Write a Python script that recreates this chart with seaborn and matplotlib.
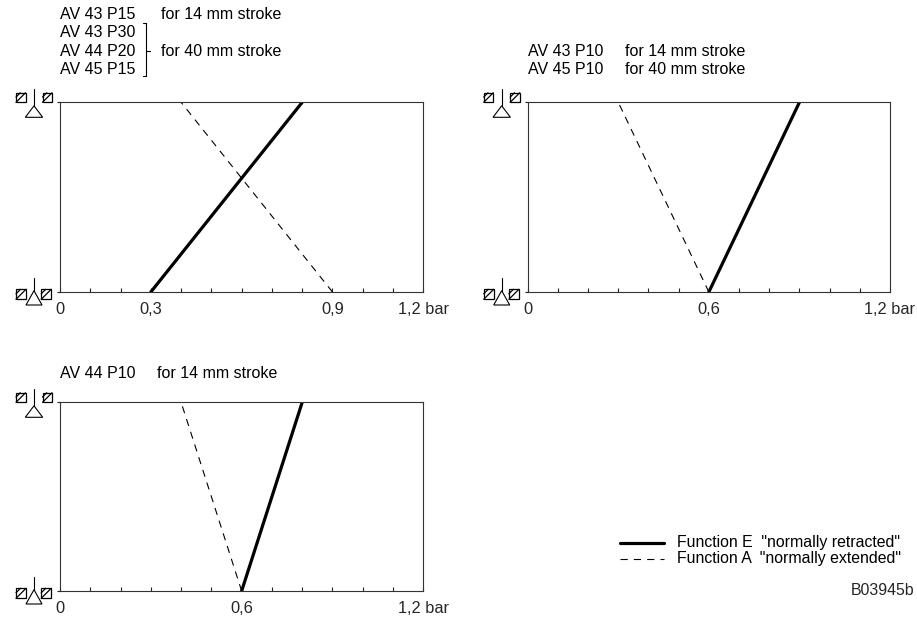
import matplotlib
matplotlib.use("Agg")
import matplotlib.pyplot as plt
import matplotlib.patches as patches
from matplotlib.ticker import MultipleLocator
import seaborn as sns

# Datos: carrera (0 = abajo, 1 = arriba) contra presion de mando en bar
stroke = [0, 1]

# panel 1: AV 43 P15 / AV 43 P30 / AV 44 P20 / AV 45 P15
press_e_1 = [0.3, 0.8]
press_a_1 = [0.9, 0.4]
# panel 2: AV 43 P10 / AV 45 P10
press_e_2 = [0.6, 0.9]
press_a_2 = [0.6, 0.3]
# panel 3: AV 44 P10
press_e_3 = [0.6, 0.8]
press_a_3 = [0.6, 0.4]

ticks_1 = [0, 0.3, 0.9, 1.2]
tick_labels_1 = ["0", "0,3", "0,9", "1,2 bar"]
ticks_2 = [0, 0.6, 1.2]
tick_labels_2 = ["0", "0,6", "1,2 bar"]

sns.set_style("white")
plt.rcParams["font.family"] = ["Liberation Sans", "DejaVu Sans"]
plt.rcParams["font.size"] = 11.5

W, H = 917, 619
fig = plt.figure(figsize=(W / 100, H / 100), dpi=100)


def make_axes(left, right, top, bottom):
    return fig.add_axes([left / W, 1 - bottom / H, (right - left) / W, (bottom - top) / H])


ax1 = make_axes(60, 423.3, 102.3, 292)
ax2 = make_axes(527.7, 890, 102.3, 292)
ax3 = make_axes(60, 423.3, 402.3, 591)

panels = [
    (ax1, press_e_1, press_a_1, ticks_1, tick_labels_1),
    (ax2, press_e_2, press_a_2, ticks_2, tick_labels_2),
    (ax3, press_e_3, press_a_3, ticks_2, tick_labels_2),
]

for ax, pe, pa, tk, tl in panels:
    sns.lineplot(x=pe, y=stroke, ax=ax, sort=False, color="black", lw=2.3)
    sns.lineplot(x=pa, y=stroke, ax=ax, sort=False, color="black", lw=0.8,
                 linestyle=(0, (6.5, 5.5)))
    ax.set_xlim(0, 1.2)
    ax.set_ylim(0, 1)
    ax.set_xticks(tk)
    ax.set_xticklabels(tl)
    ax.xaxis.set_minor_locator(MultipleLocator(0.1))
    ax.tick_params(axis="x", which="both", direction="in", length=3, width=0.8,
                   color="#222222", pad=7.5, labelsize=11.8, bottom=True)
    ax.set_yticks([0, 1])
    ax.set_yticklabels([])
    ax.tick_params(axis="y", direction="out", length=2.2, width=0.8, color="#222222", left=True)
    for s in ax.spines.values():
        s.set_color("#333333")
        s.set_linewidth(0.8)
    ax.set_xlabel("")
    ax.set_ylabel("")

# capa en pixeles para simbolos y textos
ov = fig.add_axes([0, 0, 1, 1], facecolor="none")
ov.set_xlim(0, W)
ov.set_ylim(H, 0)
ov.axis("off")


def square(x0, y0, s):
    ov.add_patch(patches.Rectangle((x0, y0), s, s, fill=True, fc="white", ec="black", lw=0.9))
    ov.plot([x0, x0 + s], [y0 + s, y0], color="black", lw=0.9)
    ov.plot([x0, x0 + s * 0.45], [y0 + s * 0.45, y0], color="black", lw=0.9)


def symbol_top(xc, ytop):
    square(xc - 18, ytop - 9.5, 9.5)
    square(xc + 8.5, ytop - 9.5, 9.5)
    ov.plot([xc, xc], [ytop - 13.5, ytop + 3.5], color="black", lw=0.8)
    ov.add_patch(patches.Polygon([(xc, ytop + 3.5), (xc - 8.7, ytop + 15), (xc + 8.7, ytop + 15)],
                                 closed=True, fill=True, fc="white", ec="black", lw=0.8))


def symbol_bottom(xc, ybot):
    ov.plot([xc, xc], [ybot - 14, ybot - 1], color="black", lw=0.8)
    ov.add_patch(patches.Polygon([(xc, ybot - 1.3), (xc - 8, ybot + 13), (xc + 8, ybot + 13)],
                                 closed=True, fill=True, fc="white", ec="black", lw=0.8))
    square(xc - 18, ybot - 2.7, 10)
    square(xc + 7.2, ybot - 2.7, 10)


for xc, yt, yb in [(34, 102.3, 292), (501.7, 102.3, 292), (34, 402.3, 591)]:
    symbol_top(xc, yt)
    symbol_bottom(xc, yb)

# textos de modelos
txt = dict(fontsize=11.5, va="baseline", ha="left", color="black")
ov.text(60, 19, "AV 43 P15", **txt)
ov.text(161, 19, "for 14 mm stroke", **txt)
ov.text(60, 37.3, "AV 43 P30", **txt)
ov.text(60, 55.6, "AV 44 P20", **txt)
ov.text(161, 55.6, "for 40 mm stroke", **txt)
ov.text(60, 74, "AV 45 P15", **txt)
# corchete
ov.plot([142.5, 146, 146, 142.5], [23.3, 23.3, 76, 76], color="black", lw=0.8)
ov.plot([146, 150], [51, 51], color="black", lw=0.8)

ov.text(527.7, 56, "AV 43 P10", **txt)
ov.text(625, 56, "for 14 mm stroke", **txt)
ov.text(527.7, 74.3, "AV 45 P10", **txt)
ov.text(625, 74.3, "for 40 mm stroke", **txt)

ov.text(60, 377.7, "AV 44 P10", **txt)
ov.text(157, 377.7, "for 14 mm stroke", **txt)

# leyenda
leg = dict(fontsize=11.4, va="baseline", ha="left", color="black")
ov.plot([620, 664], [542.5, 542.5], color="black", lw=2.3)
ov.plot([620, 664], [558.5, 558.5], color="black", lw=0.8, linestyle=(0, (6.5, 5.5)))
ov.text(677, 547, 'Function E  "normally retracted"', **leg)
ov.text(677, 563, 'Function A  "normally extended"', **leg)
ov.text(914, 595, "B03945b", fontsize=11.4, va="baseline", ha="right")

plt.savefig("out.png", dpi=100)
